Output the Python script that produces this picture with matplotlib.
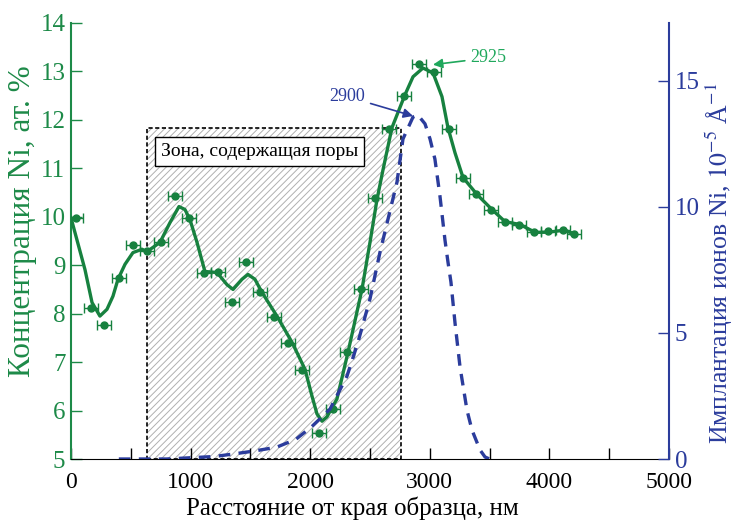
import matplotlib
matplotlib.use("Agg")
import matplotlib.pyplot as plt
from matplotlib.patches import Rectangle

# measured Ni concentration (points with error bars)
dist_pts = [40, 167, 276, 401, 518, 635, 752, 870, 987, 1112, 1229, 1346,
            1463, 1580, 1697, 1814, 1931, 2074, 2191, 2308, 2425, 2542,
            2659, 2784, 2910, 3035, 3161, 3278, 3386, 3512, 3629, 3746,
            3871, 3988, 4114, 4206]
conc_pts = [9.98, 8.11, 7.76, 8.73, 9.41, 9.30, 9.47, 10.42, 9.98, 8.83,
            8.87, 8.25, 9.06, 8.44, 7.93, 7.39, 6.83, 5.54, 6.03, 7.20, 8.50,
            10.38, 11.82, 12.50, 13.16, 12.99, 11.82, 10.81, 10.46, 10.13,
            9.90, 9.84, 9.68, 9.70, 9.72, 9.65]
dist_err = 60

# smoothed concentration curve
fit_x = [0, 117, 176, 242, 301, 351, 393, 452, 518, 594, 635, 744, 828, 903,
         953, 995, 1054, 1120, 1221, 1304, 1355, 1430, 1480, 1538, 1597, 1722,
         1848, 1957, 2015, 2057, 2099, 2140, 2224, 2316, 2433, 2500, 2559,
         2609, 2684, 2793, 2860, 2943, 3027, 3102, 3152, 3211, 3278, 3395,
         3520, 3629, 3754, 3880, 3988, 4114, 4214]
fit_y = [9.98, 8.91, 8.23, 7.95, 8.09, 8.36, 8.71, 9.02, 9.26, 9.33, 9.28,
         9.47, 9.88, 10.21, 10.15, 9.94, 9.47, 8.87, 8.85, 8.60, 8.50, 8.71,
         8.81, 8.71, 8.44, 7.95, 7.41, 6.85, 6.30, 5.93, 5.78, 5.87, 6.24,
         7.20, 8.50, 9.47, 10.36, 10.97, 11.84, 12.52, 12.89, 13.07, 12.97,
         12.48, 11.84, 11.32, 10.81, 10.46, 10.15, 9.90, 9.84, 9.68, 9.68,
         9.72, 9.65]

# Ni ion implantation profile (right axis, 1e-5 1/A)
impl_x = [400, 800, 1000, 1200, 1360, 1550, 1720, 1880, 2010, 2166, 2308,
          2400, 2500, 2584, 2651, 2726, 2776, 2860, 2900, 2960, 3002, 3043,
          3085, 3127, 3152, 3177, 3211, 3253, 3311, 3353, 3420, 3462, 3500]
impl_y = [0, 0.0, 0.05, 0.1, 0.2, 0.33, 0.47, 0.78, 1.27, 1.98, 3.29, 4.64,
          6.35, 8.21, 9.52, 10.99, 12.70, 13.57, 13.65, 13.3, 12.70, 11.90,
          10.44, 8.69, 7.82, 7.02, 5.40, 3.65, 1.94, 1.15, 0.36, 0.08, 0]

pore_zone = (636, 2760)
pore_top = 11.84

green = "#17813f"
green_ax = "#1d8a48"
green_txt = "#1fa85c"
blue = "#2b3c9c"

plt.rcParams["font.family"] = ["Liberation Serif", "DejaVu Serif"]
plt.rcParams["mathtext.fontset"] = "stix"
plt.rcParams["font.size"] = 17
plt.rcParams["hatch.linewidth"] = 0.7

fig = plt.figure(figsize=(7.34, 5.2), dpi=100)
ax = fig.add_axes([0.0967, 0.1173, 0.8147, 0.8385])
ax2 = ax.twinx()

# pore zone
ax.add_patch(Rectangle((pore_zone[0], 5), pore_zone[1] - pore_zone[0], pore_top - 5,
                       facecolor="white", edgecolor="#b0b0b0", hatch="/////",
                       linewidth=0, zorder=1))
ax.add_patch(Rectangle((pore_zone[0], 5), pore_zone[1] - pore_zone[0], pore_top - 5,
                       fill=False, edgecolor="black", linestyle=(0, (2.5, 1.5)),
                       linewidth=1.2, zorder=2))
ax.text(1580, 11.35, "Зона, содержащая поры", fontsize=14, ha="center", va="center",
        zorder=3, bbox=dict(boxstyle="square,pad=0.3", fc="white", ec="black", lw=1))

ax.plot(fit_x, fit_y, color=green, lw=2.4, zorder=4)
ax.errorbar(dist_pts, conc_pts, xerr=dist_err, fmt="o", color=green, ms=5,
            elinewidth=1, capsize=3.5, capthick=1, zorder=5)

ax2.plot(impl_x, impl_y, color=blue, lw=2.4, linestyle=(0, (3.5, 2.5)), zorder=3)

ax.set_xlim(0, 5000)
ax.set_ylim(5, 14)
ax2.set_ylim(0, 17.3)

ax.set_xticks(range(0, 5001, 500))
ax.set_xticklabels([str(v) if v % 1000 == 0 else "" for v in range(0, 5001, 500)])
ax.set_yticks(range(5, 15))
ax2.set_yticks([0, 5, 10, 15])

ax.tick_params(axis="x", direction="in", length=8, width=1, pad=9)
ax.tick_params(axis="y", direction="in", length=8, width=1, colors=green_ax,
               labelsize=18, pad=4)
ax2.tick_params(axis="y", direction="in", length=8, width=1, colors=blue,
                labelsize=18, pad=4)

for a in (ax, ax2):
    a.spines["top"].set_visible(False)
ax.spines["left"].set_color(green_ax)
ax.spines["left"].set_linewidth(1.5)
ax.spines["right"].set_visible(False)
ax2.spines["left"].set_visible(False)
ax2.spines["bottom"].set_visible(False)
ax2.spines["right"].set_color(blue)
ax2.spines["right"].set_linewidth(1.5)

ax.set_xlabel("Расстояние от края образца, нм", fontsize=18)
ax.set_ylabel("Концентрация Ni, ат. %", color=green_ax, fontsize=22.5)
ax2.set_ylabel("Имплантация ионов Ni, $10^{-5}$ Å$^{-1}$", color=blue, fontsize=18.5)
ax.xaxis.set_label_coords(0.47, -0.085)
ax.yaxis.set_label_coords(-0.057, 0.545)
ax2.yaxis.set_label_coords(1.058, 0.45)

ax.annotate("2900", xy=(2860, 12.08), xytext=(2310, 12.48), color=blue, fontsize=13,
            ha="center", va="center", zorder=6,
            arrowprops=dict(arrowstyle="-|>", color=blue, lw=1.2, shrinkA=2,
                            shrinkB=0, mutation_scale=14))
ax.annotate("2925", xy=(3027, 13.14), xytext=(3490, 13.28), color=green_txt,
            fontsize=13, ha="center", va="center", zorder=6,
            arrowprops=dict(arrowstyle="-|>", color=green_txt, lw=1.2, shrinkA=2,
                            shrinkB=0, mutation_scale=14))

fig.savefig("out.png", dpi=100)
